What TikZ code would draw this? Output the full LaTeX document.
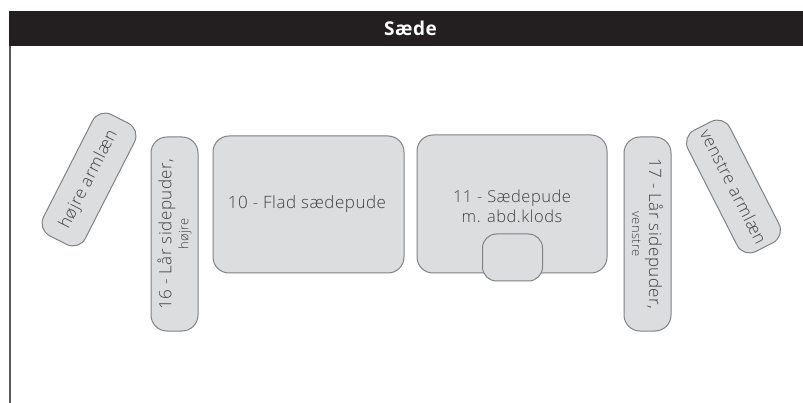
\documentclass[tikz,border=0pt]{standalone}
\usepackage{fontspec}
\setmainfont{Open Sans Light}[BoldFont={Open Sans Bold},LetterSpace=3]
\definecolor{pad}{HTML}{DCDDDF}
\definecolor{edge}{HTML}{808285}
\definecolor{ink}{HTML}{414042}
\definecolor{band}{HTML}{231F20}
\newcommand{\smalltxt}{\fontsize{13}{14}\selectfont}
\tikzset{
  pad/.style={draw=edge,fill=pad,line width=1pt,rounded corners=#1,inner sep=0pt,align=center,text=ink,font=\fontsize{17}{20}\selectfont},
  pad/.default=16pt
}
\begin{document}
\begin{tikzpicture}[x=1pt,y=-1pt]
\useasboundingbox (0,0) rectangle (803,403);
\fill[white] (0,0) rectangle (803,403);
\coordinate (lt) at (10,46);
\coordinate (lb) at (10,403);
\draw[line width=1.3pt,draw=black!65] (lt) -- (lb);
\node[fill=band,minimum width=794pt,minimum height=35pt,inner sep=0pt,text=white,font=\fontsize{19}{20}\selectfont\bfseries] (hdr) at (406,28.5) {\hspace*{9pt}Sæde};
\node[pad,minimum width=191pt,minimum height=137pt] (p10) at (308.5,204.5) {10 - Flad sædepude\hspace*{3pt}};
\node[pad,minimum width=190pt,minimum height=138pt] (p11) at (512,204) {};
\node[align=center,text=ink,font=\fontsize{16.5}{20}\selectfont,inner sep=0pt] (t11) at (512,206) {11 - Sædepude\\m. abd.klods};
\node[pad=14pt,minimum width=60pt,minimum height=47pt] (blk) at (512.5,257.5) {};
\node[pad,minimum width=194pt,minimum height=47pt,rotate=90] (p16) at (174.5,234) {16 - Lår sidepuder,\\[-3pt]{\smalltxt højre}};
\node[pad,minimum width=194pt,minimum height=47pt,rotate=-90] (p17) at (647.5,234) {17 - Lår sidepuder,\\[-3pt]{\smalltxt venstre}};
\node[pad=14pt,minimum width=136pt,minimum height=47pt,rotate=63] (al) at (89,179.5) {højre armlæn};
\node[pad=14pt,minimum width=136pt,minimum height=47pt,rotate=-63] (ar) at (733.5,186.5) {venstre armlæn};
\end{tikzpicture}
\end{document}
